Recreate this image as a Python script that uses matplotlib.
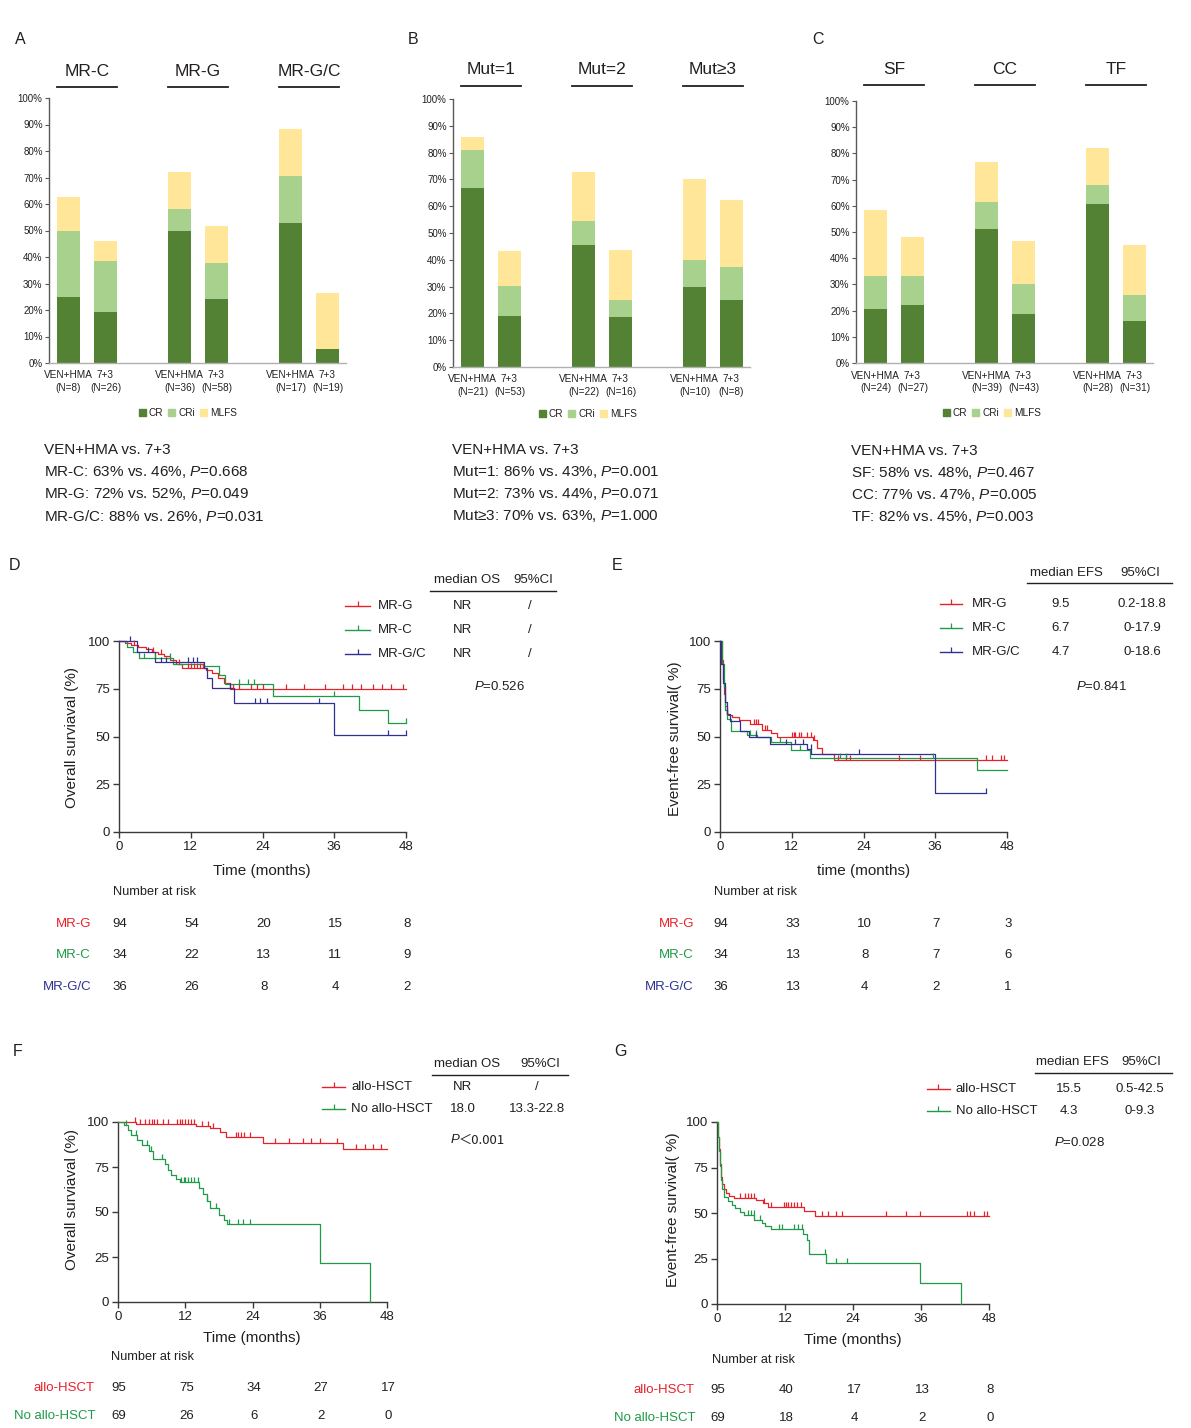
import numpy as np
import matplotlib
matplotlib.use('Agg')
import matplotlib.pyplot as plt
from matplotlib.lines import Line2D
from matplotlib.patches import Patch
from matplotlib.path import Path
import matplotlib.transforms as mtransforms

W, H = 1191, 1428
plt.rcParams['font.family'] = ['Liberation Sans', 'DejaVu Sans']
plt.rcParams['mathtext.fontset'] = 'custom'
plt.rcParams['mathtext.rm'] = 'Liberation Sans'
plt.rcParams['mathtext.it'] = 'Liberation Sans:italic'

TXT = '#231f20'
RED = '#e8202a'
GREEN = '#1e9a48'
BLUE = '#2e3192'
CR_C, CRI_C, MLFS_C = '#548235', '#a9d18e', '#ffe699'

# ---------------- data: response bars ----------------
arm_labels = ['VEN+HMA', '7+3']
resp_labels = ['CR', 'CRi', 'MLFS']

A_groups = ['MR-C', 'MR-G', 'MR-G/C']
A_n = ['(N=8)', '(N=26)', '(N=36)', '(N=58)', '(N=17)', '(N=19)']
A_cr = [25.0, 19.2, 50.0, 24.1, 52.9, 5.3]
A_cri = [25.0, 19.3, 8.3, 13.8, 17.7, 0.0]
A_mlfs = [12.5, 7.7, 13.9, 13.8, 17.6, 21.0]

B_groups = ['Mut=1', 'Mut=2', 'Mut≥3']
B_n = ['(N=21)', '(N=53)', '(N=22)', '(N=16)', '(N=10)', '(N=8)']
B_cr = [66.7, 18.9, 45.5, 18.75, 30.0, 25.0]
B_cri = [14.3, 11.3, 9.0, 6.25, 10.0, 12.5]
B_mlfs = [4.7, 13.2, 18.2, 18.75, 30.0, 25.0]

C_groups = ['SF', 'CC', 'TF']
C_n = ['(N=24)', '(N=27)', '(N=39)', '(N=43)', '(N=28)', '(N=31)']
C_cr = [20.8, 22.2, 51.3, 18.6, 60.7, 16.1]
C_cri = [12.5, 11.1, 10.2, 11.6, 7.2, 9.7]
C_mlfs = [25.0, 14.8, 15.4, 16.3, 14.2, 19.4]

A_summary = ['VEN+HMA vs. 7+3', 'MR-C: 63% vs. 46%, $\\mathit{P}$=0.668',
             'MR-G: 72% vs. 52%, $\\mathit{P}$=0.049', 'MR-G/C: 88% vs. 26%, $\\mathit{P}$=0.031']
B_summary = ['VEN+HMA vs. 7+3', 'Mut=1: 86% vs. 43%, $\\mathit{P}$=0.001',
             'Mut=2: 73% vs. 44%, $\\mathit{P}$=0.071', 'Mut≥3: 70% vs. 63%, $\\mathit{P}$=1.000']
C_summary = ['VEN+HMA vs. 7+3', 'SF: 58% vs. 48%, $\\mathit{P}$=0.467',
             'CC: 77% vs. 47%, $\\mathit{P}$=0.005', 'TF: 82% vs. 45%, $\\mathit{P}$=0.003']

# ---------------- data: survival curves ----------------
km_xticks = [0, 12, 24, 36, 48]
km_yticks = [0, 25, 50, 75, 100]

# D: OS by subgroup
D_labels = ['MR-G', 'MR-C', 'MR-G/C']
D_median = ['NR', 'NR', 'NR']
D_ci = ['/', '/', '/']
D_mrg_t = [0, 1.0, 2.0, 3.2, 4.5, 5.5, 6.5, 7.5, 8.5, 9.5, 10.5, 14.5, 15.5, 16.5, 17.5, 18.5]
D_mrg_s = [100, 98.9, 97.8, 96.7, 95.6, 94.5, 93.4, 92.3, 90.1, 88.0, 85.9, 84.6, 83.2, 80.5, 77.8, 75.0]
D_mrg_c = [2.5, 5.7, 7.0, 10.0, 11.5, 12.0, 12.5, 13.0, 13.5, 14.0, 19.0, 20.0, 22.0, 23.0, 24.0,
           28.0, 31.0, 34.5, 37.5, 39.0, 40.5, 42.5, 44.0, 45.5, 47.5]
D_mrg_end = 48
D_mrc_t = [0, 1.3, 2.3, 3.4, 9.0, 14.0, 16.8, 17.8, 25.8, 40.2, 45.0]
D_mrc_s = [100, 97.1, 94.1, 91.2, 88.2, 87.0, 82.0, 77.6, 71.2, 64.0, 57.0]
D_mrc_c = [4.2, 6.0, 8.5, 20.0, 21.5, 22.5, 36.0, 48.0]
D_mrc_end = 48
D_mrgc_t = [0, 3.0, 6.0, 14.2, 14.8, 15.6, 19.3, 36.0]
D_mrgc_s = [100, 94.4, 88.9, 86.0, 80.6, 75.2, 67.7, 50.8]
D_mrgc_c = [1.8, 4.8, 7.0, 7.8, 11.5, 12.3, 13.0, 18.5, 22.8, 23.5, 24.8, 33.5, 45.0, 48.0]
D_mrgc_end = 48
D_risk = [[94, 54, 20, 15, 8], [34, 22, 13, 11, 9], [36, 26, 8, 4, 2]]

# E: EFS by subgroup
E_labels = ['MR-G', 'MR-C', 'MR-G/C']
E_median = ['9.5', '6.7', '4.7']
E_ci = ['0.2-18.8', '0-17.9', '0-18.6']
E_mrg_t = [0, 0.3, 0.5, 0.7, 0.9, 1.2, 2.0, 3.2, 5.0, 7.0, 8.5, 9.5, 15.5, 16.2, 17.0, 19.0]
E_mrg_s = [100, 90, 80, 72, 66, 61, 60, 58.5, 56.5, 53.5, 52, 50, 48, 44, 41, 37.5]
E_mrg_c = [5.7, 6.0, 6.3, 7.5, 7.8, 12.0, 12.3, 12.6, 13.2, 13.5, 14.5, 15.3, 15.7, 19.8, 21.0, 21.7,
           30.0, 33.5, 44.5, 45.5, 47.0, 47.5]
E_mrg_end = 48
E_mrc_t = [0, 0.3, 0.6, 0.9, 1.2, 1.8, 4.5, 6.2, 8.5, 11.8, 15.0, 43.0]
E_mrc_s = [100, 88, 76, 64, 59, 53, 51, 50, 47, 43, 38.7, 32.3]
E_mrc_c = [5.0, 6.0, 10.0, 13.3, 20.0, 21.0, 35.7]
E_mrc_end = 48
E_mrgc_t = [0, 0.2, 0.5, 0.8, 1.1, 1.7, 3.4, 4.8, 8.3, 14.5, 15.3, 36.0]
E_mrgc_s = [100, 88, 78, 68, 62, 58.3, 52.8, 49.7, 46.0, 43.4, 40.8, 20.4]
E_mrgc_c = [1.2, 6.0, 11.0, 12.5, 13.8, 15.2, 23.3, 44.5]
E_mrgc_end = 44.5
E_risk = [[94, 33, 10, 7, 3], [34, 13, 8, 7, 6], [36, 13, 4, 2, 1]]

# F: OS by transplant
F_labels = ['allo-HSCT', 'No allo-HSCT']
F_median = ['NR', '18.0']
F_ci = ['/', '13.3-22.8']
F_allo_t = [0, 3.3, 14.0, 16.5, 18.2, 19.2, 25.9, 40.2]
F_allo_s = [100, 98.9, 97.8, 96.4, 94.2, 91.6, 88.3, 84.9]
F_allo_c = [3.0, 4.0, 4.8, 5.5, 6.0, 6.5, 7.0, 8.0, 9.0, 10.5, 11.0, 11.5, 12.0, 12.5, 13.0, 13.5,
            15.0, 16.0, 17.0, 21.0, 21.5, 22.0, 22.5, 23.5, 28.0, 30.5, 33.0, 34.5, 36.0, 39.0,
            42.5, 44.0, 45.5, 47.0]
F_allo_end = 48
F_no_t = [0, 1.0, 1.7, 2.4, 3.4, 4.3, 5.5, 6.3, 8.3, 8.9, 9.5, 10.3, 11.0, 14.5, 15.2, 15.8, 16.4,
          18.0, 19.0, 19.5, 36.0, 44.9]
F_no_s = [100, 98.6, 95.7, 92.8, 89.9, 87.0, 84.1, 79.4, 76.5, 73.6, 70.7, 68.3, 66.4, 63.1, 59.8,
          56.0, 52.3, 48.6, 45.8, 43.1, 21.5, 0.0]
F_no_c = [1.5, 3.2, 5.2, 5.9, 7.8, 11.3, 11.7, 12.0, 12.5, 13.0, 13.5, 14.2, 15.9, 17.5, 19.8, 21.5,
          22.3, 23.5]
F_no_end = 44.9
F_risk = [[95, 75, 34, 27, 17], [69, 26, 6, 2, 0]]

# G: EFS by transplant
G_labels = ['allo-HSCT', 'No allo-HSCT']
G_median = ['15.5', '4.3']
G_ci = ['0.5-42.5', '0-9.3']
G_allo_t = [0, 0.15, 0.3, 0.5, 0.7, 0.9, 1.2, 1.6, 2.2, 3.0, 6.8, 8.2, 9.0, 15.3, 17.3]
G_allo_s = [100, 92, 85, 77, 70, 66, 63, 61, 59.5, 58.5, 57.3, 55.5, 53.3, 51.0, 48.3]
G_allo_c = [4.0, 5.0, 5.5, 6.0, 6.5, 8.3, 9.5, 11.8, 12.2, 12.6, 13.0, 13.5, 14.2, 14.8, 18.5, 19.5,
            21.0, 22.0, 29.9, 33.4, 35.8, 44.2, 44.6, 45.3, 47.2, 47.6]
G_allo_end = 48
G_no_t = [0, 0.15, 0.3, 0.5, 0.7, 0.9, 1.3, 2.0, 2.6, 3.2, 4.0, 4.8, 6.6, 8.0, 8.4, 9.5, 15.2, 15.8,
          16.2, 19.3, 35.9, 43.0]
G_no_s = [100, 92, 84, 76, 68, 63, 59, 56.5, 54.5, 52.5, 50.5, 48.8, 46.3, 44.5, 43.0, 41.2, 38.2,
          35.2, 27.5, 22.7, 11.4, 0.0]
G_no_c = [5.5, 6.0, 6.5, 7.5, 11.0, 11.5, 13.5, 14.3, 15.0, 19.0, 21.0, 23.0]
G_no_end = 43.0
G_risk = [[95, 40, 17, 13, 8], [69, 18, 4, 2, 0]]

# ---------------- figure ----------------
fig = plt.figure(figsize=(W / 100, H / 100), dpi=100)
fig.patch.set_facecolor('white')


def fx(x):
    return x / W


def fy(y):
    return 1 - y / H


def add_ax(x0, ytop, x1, ybot):
    return fig.add_axes([x0 / W, 1 - ybot / H, (x1 - x0) / W, (ybot - ytop) / H])


def ftext(x, y, s, **kw):
    kw.setdefault('color', TXT)
    kw.setdefault('va', 'center')
    fig.text(fx(x), fy(y), s, **kw)


def fline(x0, x1, y, **kw):
    fig.add_artist(Line2D([fx(x0), fx(x1)], [fy(y), fy(y)], **kw))


TICK = Path([[0, 0], [0, 1]])

# ---------- bar panels ----------
bar_pos = np.array([0, 1, 3, 4, 6, 7])
UNIT = 37.0


def bar_panel(bar0_px, ytop, ybot, groups, ns, cr, cri, mlfs, title_y, ul_y, lab_y1, lab_y2, leg_xy):
    xl = (-0.53, 7.5)
    ax = add_ax(bar0_px + xl[0] * UNIT, ytop, bar0_px + xl[1] * UNIT, ybot)
    cr = np.array(cr)
    cri = np.array(cri)
    mlfs = np.array(mlfs)
    ax.bar(bar_pos, cr, width=0.62, color=CR_C, linewidth=0)
    ax.bar(bar_pos, cri, width=0.62, bottom=cr, color=CRI_C, linewidth=0)
    ax.bar(bar_pos, mlfs, width=0.62, bottom=cr + cri, color=MLFS_C, linewidth=0)
    ax.set_xlim(*xl)
    ax.set_ylim(0, 100)
    yt = np.arange(0, 101, 10)
    ax.set_yticks(yt)
    ax.set_yticklabels([f'{v}%' for v in yt])
    ax.set_xticks([])
    for s in ['top', 'right']:
        ax.spines[s].set_visible(False)
    ax.spines['left'].set_color('#595959')
    ax.spines['left'].set_linewidth(1.0)
    ax.spines['bottom'].set_color('#b0b0b0')
    ax.spines['bottom'].set_linewidth(1.0)
    ax.tick_params(axis='y', direction='out', length=3, width=0.8, color='#595959',
                   labelsize=7, pad=1.5, labelcolor=TXT)
    ax.set_facecolor('none')
    trans = mtransforms.blended_transform_factory(ax.transData, fig.transFigure)
    for g, name in enumerate(groups):
        c = 3 * g + 0.5
        ax.text(c, fy(title_y), name, transform=trans, ha='center', va='center',
                fontsize=12.5, color=TXT)
        ax.plot([c - 0.82, c + 0.82], [fy(ul_y)] * 2, transform=trans, color=TXT,
                lw=1.3, clip_on=False)
    for i, p in enumerate(bar_pos):
        ax.text(p, fy(lab_y1), arm_labels[i % 2], transform=trans, ha='center', va='center',
                fontsize=7.2, color=TXT)
        ax.text(p, fy(lab_y2), ns[i], transform=trans, ha='center', va='center',
                fontsize=7.2, color=TXT)
    handles = [Patch(color=c, label=l) for c, l in zip([CR_C, CRI_C, MLFS_C], resp_labels)]
    fig.legend(handles=handles, loc='center', bbox_to_anchor=(fx(leg_xy[0]), fy(leg_xy[1])),
               ncol=3, frameon=False, fontsize=7.2, handlelength=0.7, handleheight=0.7,
               handletextpad=0.3, columnspacing=0.5, borderaxespad=0, borderpad=0,
               labelcolor=TXT)
    return ax


bar_panel(68.5, 98, 363, A_groups, A_n, A_cr, A_cri, A_mlfs, 72, 87, 375, 388, (188, 413))
bar_panel(472.5, 99, 367, B_groups, B_n, B_cr, B_cri, B_mlfs, 70, 86, 379, 392, (588, 414))
bar_panel(875.5, 101, 363, C_groups, C_n, C_cr, C_cri, C_mlfs, 69, 85, 376, 388, (992, 413))

for x, ys, lines in [(44, [450, 472, 494, 516], A_summary),
                     (452, [450, 472, 494, 516], B_summary),
                     (851, [451, 473, 495, 517], C_summary)]:
    for y, s in zip(ys, lines):
        ftext(x, y, s, fontsize=11, ha='left')

for x, y, s in [(20, 40, 'A'), (413, 40, 'B'), (818, 40, 'C'),
                (15, 566, 'D'), (617, 566, 'E'), (18, 1052, 'F'), (620, 1052, 'G')]:
    ftext(x, y, s, fontsize=11.5, ha='center')


# ---------- KM panels ----------
def step_vals(times, surv, q):
    times = np.asarray(times)
    surv = np.asarray(surv)
    idx = np.searchsorted(times, q, side='right') - 1
    return surv[idx]


def km_panel(box, curves, xlabel, xlab_xy, ylabel, ylab_xy):
    ax = add_ax(*box)
    for t, s, c, end, col in curves:
        tt = list(t) + [end]
        ss = list(s) + [s[-1]]
        ax.step(tt, ss, where='post', color=col, lw=0.9, clip_on=False, zorder=3)
        ax.plot(c, step_vals(t, s, c), ls='none', marker=TICK, ms=6.5, mew=0.9,
                color=col, clip_on=False, zorder=4)
    ax.set_xlim(0, 48)
    ax.set_ylim(0, 100)
    ax.set_xticks(km_xticks)
    ax.set_yticks(km_yticks)
    for s in ['top', 'right']:
        ax.spines[s].set_visible(False)
    for s in ['left', 'bottom']:
        ax.spines[s].set_color('#3a3a3a')
        ax.spines[s].set_linewidth(1.0)
    ax.tick_params(direction='out', length=4, width=1.0, color='#3a3a3a', labelsize=9.5,
                   pad=2.5, labelcolor=TXT)
    ax.set_facecolor('none')
    ftext(xlab_xy[0], xlab_xy[1], xlabel, fontsize=11, ha='center')
    ftext(ylab_xy[0], ylab_xy[1], ylabel, fontsize=11, ha='center', rotation=90)
    return ax


def km_legend(line_x, text_x, ys, labels, colors, head, head_xs, head_y, ul, med, ci, val_xs):
    for y, lab, col in zip(ys, labels, colors):
        fline(line_x[0], line_x[1], y, color=col, lw=1.0)
        xm = (line_x[0] + line_x[1]) / 2
        fig.add_artist(Line2D([fx(xm)], [fy(y)], marker=TICK, ms=6.5, mew=0.9, color=col,
                              ls='none'))
        ftext(text_x, y, lab, fontsize=9.5, ha='left')
    ftext(head_xs[0], head_y, head, fontsize=9.5, ha='center')
    ftext(head_xs[1], head_y, '95%CI', fontsize=9.5, ha='center')
    fline(ul[0], ul[1], ul[2], color=TXT, lw=1.0)
    for y, m, c in zip(ys, med, ci):
        ftext(val_xs[0], y, m, fontsize=9.5, ha='center')
        ftext(val_xs[1], y, c, fontsize=9.5, ha='center')


def km_risk(ax, head_xy, lab_x, ys, labels, colors, risk):
    ftext(head_xy[0], head_xy[1], 'Number at risk', fontsize=9.2, ha='left')
    trans = mtransforms.blended_transform_factory(ax.transData, fig.transFigure)
    for y, lab, col, row in zip(ys, labels, colors, risk):
        ftext(lab_x, y, lab, fontsize=9.5, ha='right', color=col)
        for xv, n in zip(km_xticks, row):
            ax.text(xv + 0.2, fy(y), str(n), transform=trans, ha='center', va='center',
                    fontsize=9.5, color=TXT)


def ptext(x, y, rest):
    ftext(x, y, '$\\mathit{P}$' + rest, fontsize=9.5, ha='left')


ylab_os = 'Overall surviaval (%)'
ylab_efs = 'Event-free survival( %)'
cols3 = [RED, GREEN, BLUE]
cols2 = [RED, GREEN]

# D
axD = km_panel((119, 641, 406, 832),
               [(D_mrg_t, D_mrg_s, D_mrg_c, D_mrg_end, RED),
                (D_mrc_t, D_mrc_s, D_mrc_c, D_mrc_end, GREEN),
                (D_mrgc_t, D_mrgc_s, D_mrgc_c, D_mrgc_end, BLUE)],
               'Time (months)', (262, 871), ylab_os, (72, 737))
km_legend((345, 370), 378, [606, 630, 654], D_labels, cols3, 'median OS', (467, 533), 580,
          (430, 556, 591), D_median, D_ci, (462, 530))
ptext(474, 686, '=0.526')
km_risk(axD, (113, 892), 91, [924, 955, 987], D_labels, cols3, D_risk)

# E
axE = km_panel((720, 641, 1007, 832),
               [(E_mrg_t, E_mrg_s, E_mrg_c, E_mrg_end, RED),
                (E_mrc_t, E_mrc_s, E_mrc_c, E_mrc_end, GREEN),
                (E_mrgc_t, E_mrgc_s, E_mrgc_c, E_mrgc_end, BLUE)],
               'time (months)', (864, 871), ylab_efs, (675, 739))
km_legend((940, 962), 972, [604, 628, 652], E_labels, cols3, 'median EFS', (1066, 1140), 573,
          (1027, 1172, 583), E_median, E_ci, (1061, 1142))
ptext(1076, 686, '=0.841')
km_risk(axE, (714, 892), 694, [924, 955, 987], E_labels, cols3, E_risk)

# F
axF = km_panel((118, 1122, 387, 1302),
               [(F_allo_t, F_allo_s, F_allo_c, F_allo_end, RED),
                (F_no_t, F_no_s, F_no_c, F_no_end, GREEN)],
               'Time (months)', (252, 1338), ylab_os, (72, 1200))
km_legend((322, 345), 351, [1087, 1109], F_labels, cols2, 'median OS', (467, 540), 1064,
          (432, 568, 1075), F_median, F_ci, (463, 537))
ftext(451, 1140, 'P', fontsize=9.5, ha='left', style='italic')
ftext(459, 1140, '＜0.001', fontsize=9.5, ha='left',
      family=['Noto Sans CJK SC', 'Liberation Sans'])
km_risk(axF, (111, 1357), 95, [1388, 1416], F_labels, cols2, F_risk)

# G
axG = km_panel((717, 1122, 989, 1304),
               [(G_allo_t, G_allo_s, G_allo_c, G_allo_end, RED),
                (G_no_t, G_no_s, G_no_c, G_no_end, GREEN)],
               'Time (months)', (853, 1340), ylab_efs, (673, 1210))
km_legend((927, 950), 956, [1089, 1111], G_labels, cols2, 'median EFS', (1072, 1141), 1062,
          (1035, 1172, 1073), G_median, G_ci, (1069, 1140))
ptext(1054, 1143, '=0.028')
km_risk(axG, (712, 1360), 695, [1390, 1418], G_labels, cols2, G_risk)

fig.savefig('out.png', dpi=100, facecolor='white')
